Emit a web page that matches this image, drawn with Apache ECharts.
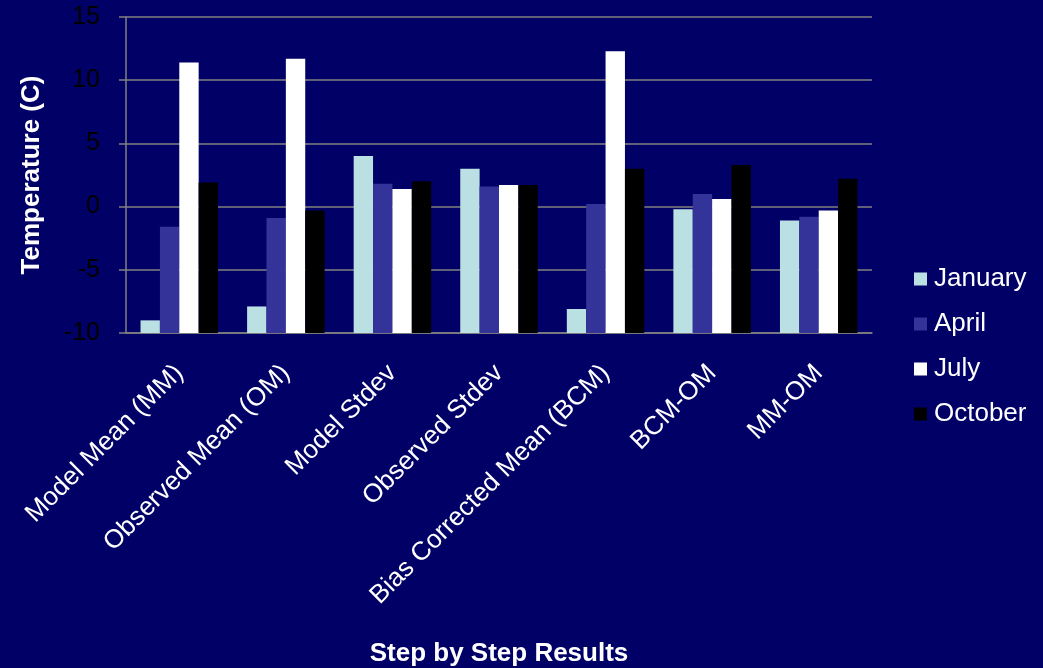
<!DOCTYPE html>
<html>
<head>
<meta charset="utf-8">
<script src="https://cdn.jsdelivr.net/npm/echarts@6/dist/echarts.min.js"></script>
<style>
  html, body { margin: 0; padding: 0; background: #000066; }
  #chart { width: 1043px; height: 668px; }
</style>
</head>
<body>
<div id="chart"></div>
<script>
// Monthly temperature statistics, step by step through the bias correction
const categories = [
  'Model Mean (MM)', 'Observed Mean (OM)', 'Model Stdev', 'Observed Stdev',
  'Bias Corrected Mean (BCM)', 'BCM-OM', 'MM-OM'
];
const months = ['January', 'April', 'July', 'October'];
const january = [-9.0, -7.9, 4.0, 3.0, -8.1, -0.2, -1.1];
const april   = [-1.6, -0.9, 1.8, 1.6, 0.2, 1.0, -0.8];
const july    = [11.4, 11.7, 1.4, 1.7, 12.3, 0.6, -0.3];
const october = [1.9, -0.3, 2.0, 1.7, 3.0, 3.3, 2.2];
const yMin = -10, yMax = 15, yStep = 5;

const monthValues = [january, april, july, october];
const monthColors = ['#BBE0E3', '#333399', '#FFFFFF', '#000000'];
const FONT = 'Liberation Sans, Arial, sans-serif';

// Bars rise from the bottom of the value axis (where the category axis crosses)
function barRenderer(slot, slots) {
  return function (params, api) {
    const cat = api.value(0);
    const val = api.value(1);
    const top = api.coord([cat, val]);
    const base = api.coord([cat, yMin]);
    const band = api.size([1, 0])[0];
    const bw = band / (slots + 1.5);
    const x = top[0] - (slots / 2) * bw + slot * bw;
    return {
      type: 'rect',
      shape: { x: x, y: top[1], width: bw, height: base[1] - top[1] },
      style: api.style()
    };
  };
}

const series = months.map((name, k) => ({
  name: name,
  type: 'custom',
  renderItem: barRenderer(k, months.length),
  itemStyle: { color: monthColors[k] },
  encode: { x: 0, y: 1 },
  data: monthValues[k].map((v, i) => [i, v])
}));

const chart = echarts.init(document.getElementById('chart'), null, { renderer: 'canvas' });
chart.setOption({
  backgroundColor: '#000066',
  animation: false,
  textStyle: { fontFamily: FONT },
  grid: { left: 126, right: 171, top: 17, bottom: 335, containLabel: false },
  legend: {
    orient: 'vertical',
    left: 909,
    top: 261,
    itemWidth: 13,
    itemHeight: 13,
    itemGap: 19,
    icon: 'rect',
    data: months,
    textStyle: { color: '#FFFFFF', fontSize: 26, lineHeight: 26, fontFamily: FONT, padding: [0, 0, 0, 2] }
  },
  xAxis: {
    type: 'category',
    data: categories,
    name: 'Step by Step Results',
    nameLocation: 'middle',
    nameGap: 308,
    nameTextStyle: { color: '#FFFFFF', fontSize: 26, fontWeight: 'bold', fontFamily: FONT },
    axisLine: { onZero: false, lineStyle: { color: '#808080', width: 1.5 } },
    axisTick: { show: false },
    axisLabel: {
      interval: 0,
      rotate: 45,
      margin: 36,
      color: '#FFFFFF',
      fontSize: 26,
      fontFamily: FONT
    },
    splitLine: { show: false }
  },
  yAxis: {
    type: 'value',
    min: yMin,
    max: yMax,
    interval: yStep,
    name: 'Temperature (C)',
    nameLocation: 'middle',
    nameRotate: 90,
    nameGap: 81,
    nameTextStyle: { color: '#FFFFFF', fontSize: 26, fontWeight: 'bold', fontFamily: FONT },
    axisLine: { show: true, lineStyle: { color: '#808080', width: 1.5 } },
    axisTick: { show: true, inside: false, length: 7, lineStyle: { color: '#808080', width: 1.5 } },
    axisLabel: { color: '#000000', fontSize: 25, margin: 26, fontFamily: FONT, padding: [3, 0, 0, 0] },
    splitLine: { show: true, lineStyle: { color: '#808080', width: 1.5 } }
  },
  series: series
});
</script>
</body>
</html>
